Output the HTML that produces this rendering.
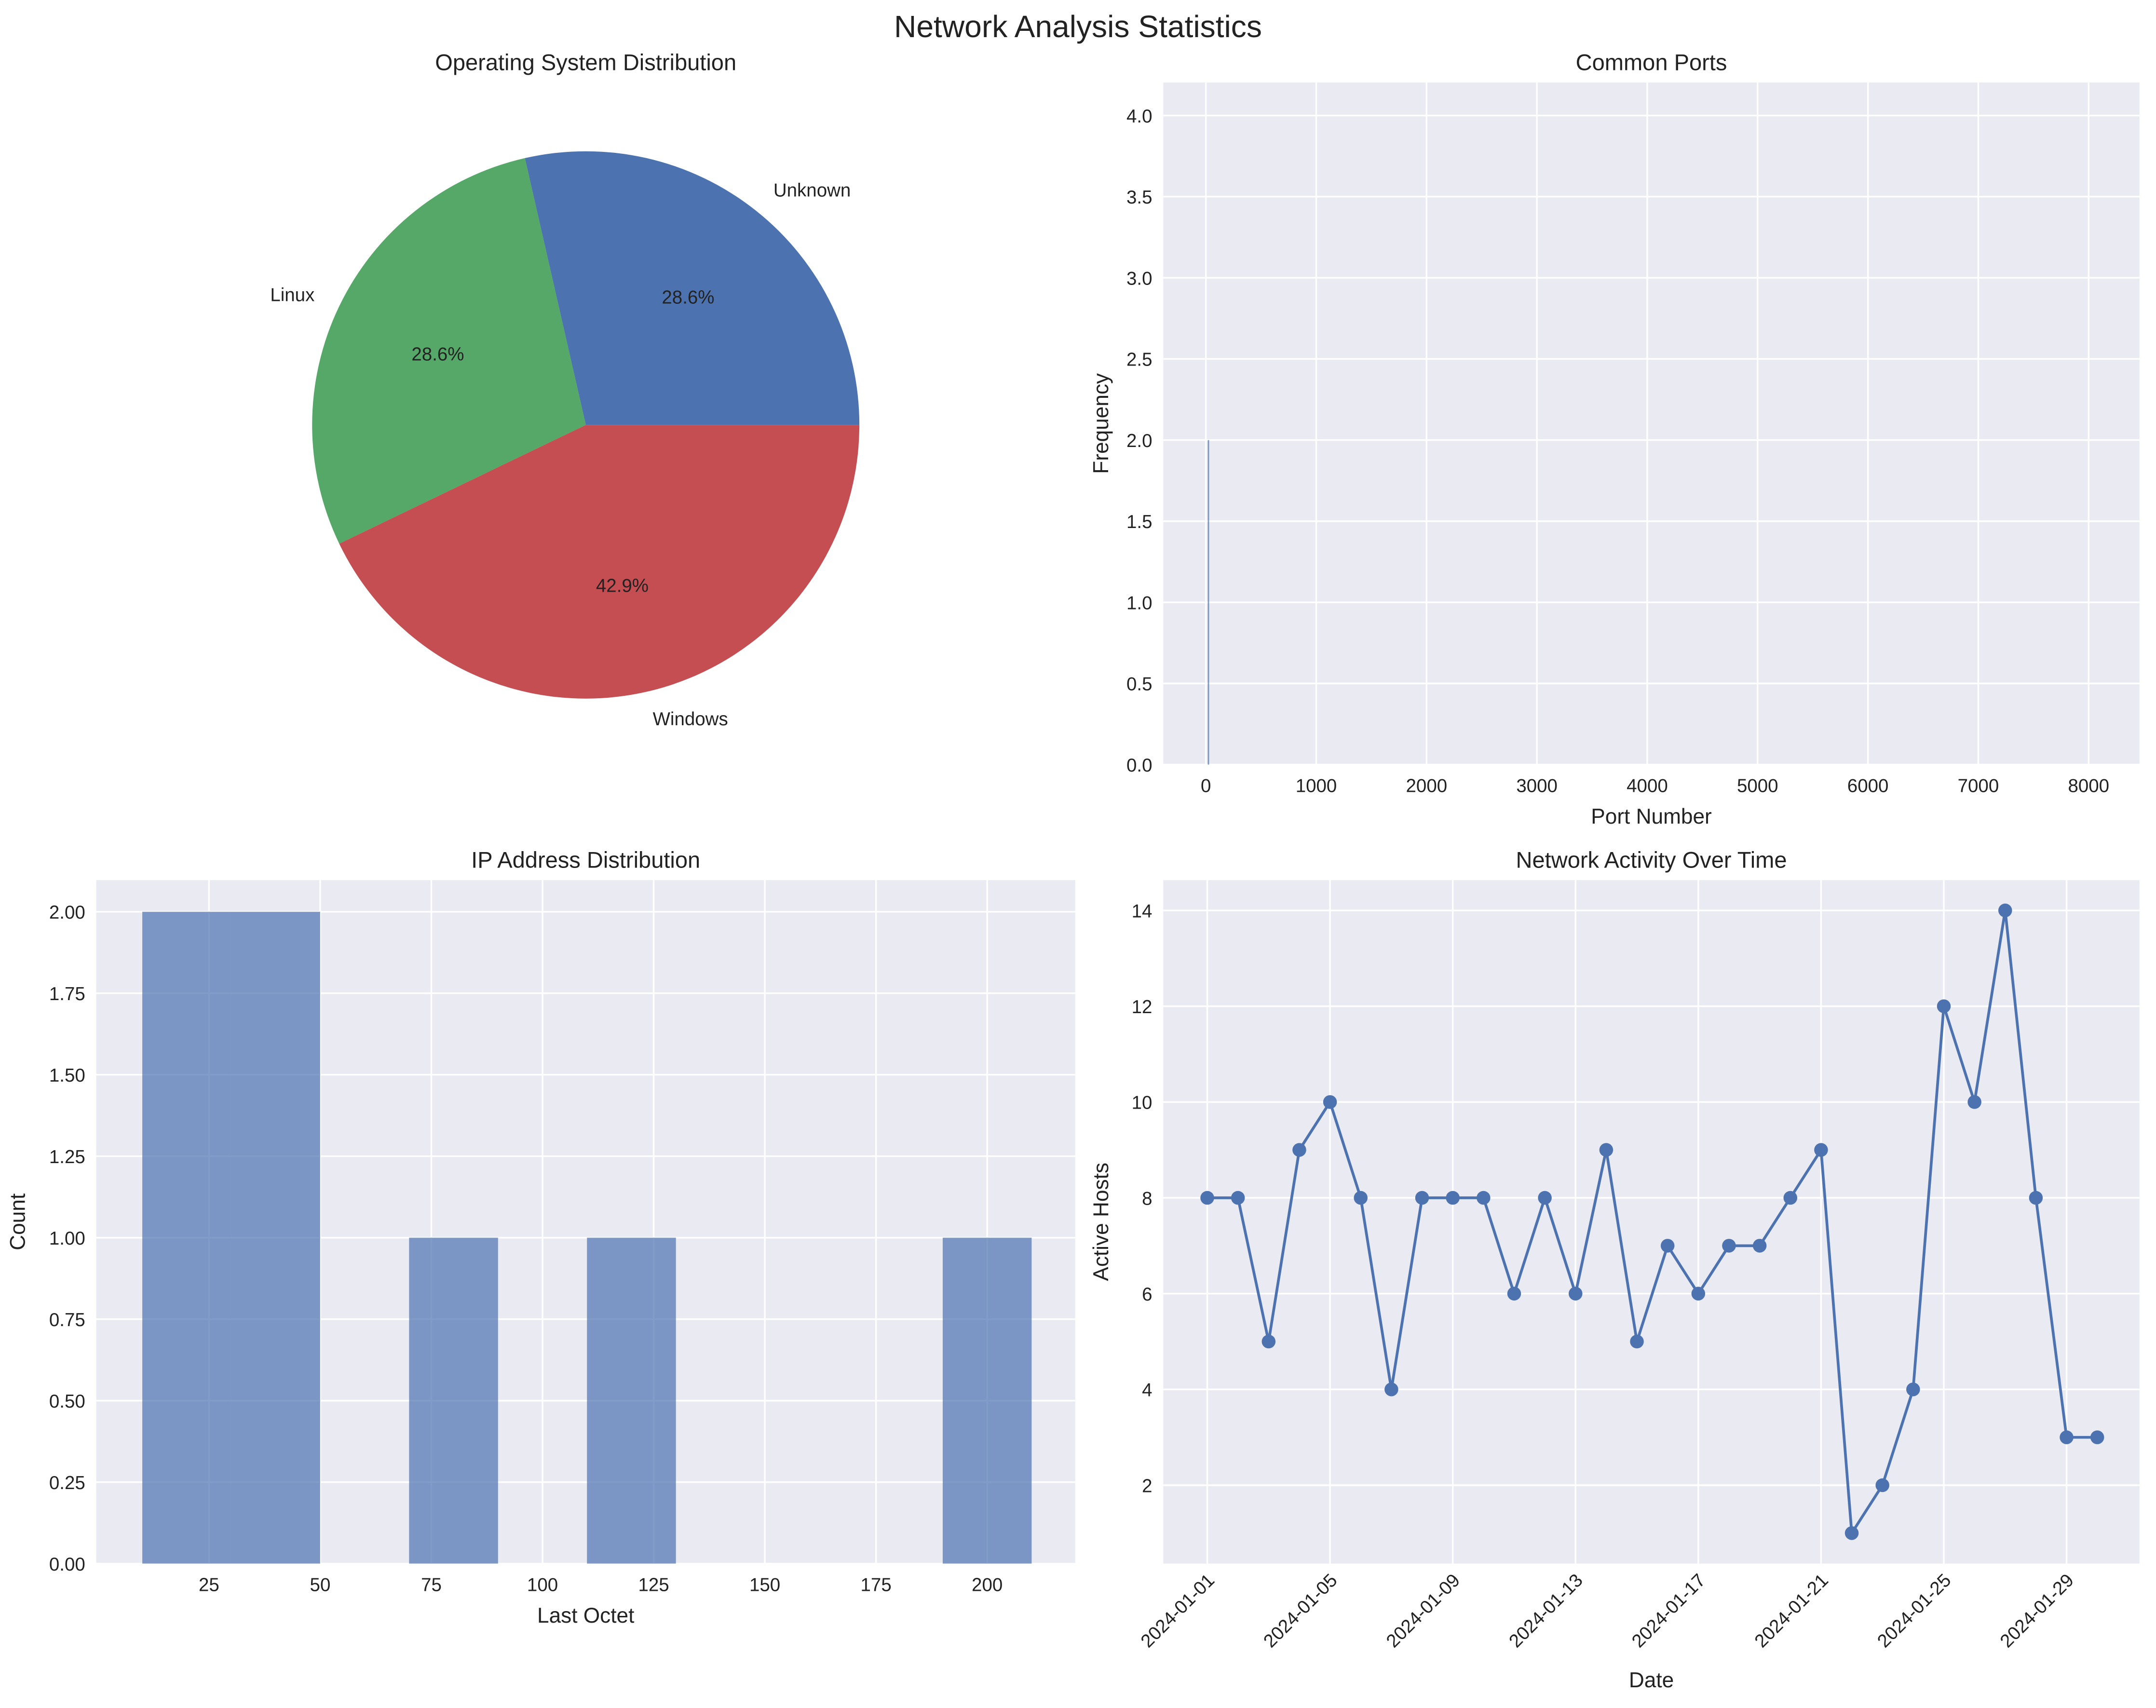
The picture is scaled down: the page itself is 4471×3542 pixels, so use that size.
<!DOCTYPE html>
<html><head><meta charset="utf-8"><style>
html,body{margin:0;padding:0;background:#fff}
svg{display:block;font-family:"Liberation Sans",Arial,sans-serif}
</style></head><body>
<svg id="fig" width="4471" height="3542" viewBox="0 0 1568 1242" preserveAspectRatio="none" xmlns="http://www.w3.org/2000/svg">
<rect width="1568" height="1242" fill="#fff"/>
<text x="784" y="27" font-size="22.5" text-anchor="middle" fill="#222">Network Analysis Statistics</text>
<g id="pie"></g><g id="ports"></g><g id="ip"></g><g id="act"></g>
</svg>
<script>
const osLabels=["Unknown","Linux","Windows"];
const osCounts=[2,2,3];
const portCats=[22];
const portCounts=[2];
const ipEdges=[10,30,50,70,90,110,130,150,170,190,210];
const ipCounts=[2,2,0,1,0,1,0,0,0,1];
const actDates=["2024-01-01","2024-01-02","2024-01-03","2024-01-04","2024-01-05","2024-01-06","2024-01-07","2024-01-08","2024-01-09","2024-01-10","2024-01-11","2024-01-12","2024-01-13","2024-01-14","2024-01-15","2024-01-16","2024-01-17","2024-01-18","2024-01-19","2024-01-20","2024-01-21","2024-01-22","2024-01-23","2024-01-24","2024-01-25","2024-01-26","2024-01-27","2024-01-28","2024-01-29","2024-01-30"];
const actHosts=[8,8,5,9,10,8,4,8,8,8,6,8,6,9,5,7,6,7,7,8,9,1,2,4,12,10,14,8,3,3];
const portTicks=[0,1000,2000,3000,4000,5000,6000,7000,8000];
const portYTicks=[0,0.5,1,1.5,2,2.5,3,3.5,4];
const ipXTicks=[25,50,75,100,125,150,175,200];
const ipYTicks=[0,0.25,0.5,0.75,1,1.25,1.5,1.75,2];
const actYTicks=[2,4,6,8,10,12,14];
const actXTickIdx=[0,4,8,12,16,20,24,28];

const NS="http://www.w3.org/2000/svg";
const TK=13.5, LB=15.5, TT=16.5;
function el(p,t,a,txt){const e=document.createElementNS(NS,t);for(const k in a)e.setAttribute(k,a[k]);if(txt!==undefined)e.textContent=txt;p.appendChild(e);return e;}

// Pie
(function(){
 const g=document.getElementById('pie');
 const cx=426,cy=309,r=199;const cols=["#4C72B0","#55A868","#C44E52"];
 el(g,'text',{x:426,y:51,'font-size':TT,'text-anchor':'middle',fill:'#222'},'Operating System Distribution');
 const tot=osCounts.reduce((a,b)=>a+b,0);let a0=0;
 osCounts.forEach((c,i)=>{
  const a1=a0+c/tot*2*Math.PI;
  const x0=cx+r*Math.cos(a0),y0=cy-r*Math.sin(a0),x1=cx+r*Math.cos(a1),y1=cy-r*Math.sin(a1);
  const large=(a1-a0)>Math.PI?1:0;
  const p=el(g,'path',{d:`M${cx},${cy}L${x0},${y0}A${r},${r} 0 ${large} 0 ${x1},${y1}Z`,fill:cols[i]});
  
  
  const m=(a0+a1)/2;
  const t=el(g,'text',{x:cx+r*1.1*Math.cos(m),y:cy-r*1.1*Math.sin(m)+5,'font-size':TK,'text-anchor':Math.cos(m)>0.05?'start':(Math.cos(m)<-0.05?'end':'middle'),fill:'#222'},osLabels[i]);
  
  
  const pc=el(g,'text',{x:cx+r*0.6*Math.cos(m),y:cy-r*0.6*Math.sin(m)+5,'font-size':TK,'text-anchor':'middle',fill:'#222'},(c/tot*100).toFixed(1)+'%');
  
  
  a0=a1;
 });
})();

function axes(g,box,xs,ys,xt,yt,xfmt,yfmt,title,xlabel,ylabel){
 el(g,'rect',{x:box.x0,y:box.y0,width:box.x1-box.x0,height:box.y1-box.y0,fill:'#EAEAF2'});
 xt.forEach(v=>{const x=xs(v);el(g,'line',{x1:x,x2:x,y1:box.y0,y2:box.y1,stroke:'#fff','stroke-width':1.2});});
 yt.forEach(v=>{const y=ys(v);el(g,'line',{x1:box.x0,x2:box.x1,y1:y,y2:y,stroke:'#fff','stroke-width':1.2});
  const t=el(g,'text',{x:box.x0-8,y:y+5,'font-size':TK,'text-anchor':'end',fill:'#222'},yfmt(v));
  });
 if(xfmt) xt.forEach(v=>{const t=el(g,'text',{x:xs(v),y:box.y1+20,'font-size':TK,'text-anchor':'middle',fill:'#222'},xfmt(v));
  });
 el(g,'text',{x:(box.x0+box.x1)/2,y:box.y0-9,'font-size':TT,'text-anchor':'middle',fill:'#222'},title);
 if(xlabel) el(g,'text',{x:(box.x0+box.x1)/2,y:box.y1+43,'font-size':LB,'text-anchor':'middle',fill:'#222'},xlabel);
 el(g,'text',{x:0,y:0,'font-size':LB,'text-anchor':'middle',fill:'#222',transform:`translate(${box.x0-(box.yl||44)},${(box.y0+box.y1)/2}) rotate(-90)`},ylabel);
}

// Ports
(function(){
 const g=document.getElementById('ports');
 const box={x0:846,x1:1556,y0:60,y1:556,yl:40};
 const xs=v=>877+v*(1519-877)/8000, ys=v=>556-v*118;
 axes(g,box,xs,ys,portTicks,portYTicks,v=>String(v),v=>v.toFixed(1),'Common Ports','Port Number','Frequency');
 portCats.forEach((p,i)=>{const b=el(g,'rect',{x:xs(p)-0.4,y:ys(portCounts[i]),width:1,height:ys(0)-ys(portCounts[i]),fill:'#4C72B0',opacity:0.7});
  });
})();

// IP
(function(){
 const g=document.getElementById('ip');
 const box={x0:70,x1:782,y0:640,y1:1137,yl:52};
 const xs=v=>152+(v-25)*3.234, ys=v=>1137-v*237;
 axes(g,box,xs,ys,ipXTicks,ipYTicks,v=>String(v),v=>v.toFixed(2),'IP Address Distribution','Last Octet','Count');
 ipCounts.forEach((n,i)=>{if(!n)return;const x0=xs(ipEdges[i]),x1=xs(ipEdges[i+1]);
  const b=el(g,'rect',{x:x0,y:ys(n),width:x1-x0,height:ys(0)-ys(n),fill:'#4C72B0',opacity:0.7});
  });
})();

// Activity
(function(){
 const g=document.getElementById('act');
 const box={x0:846,x1:1556,y0:640,y1:1137,yl:40};
 const xs=i=>878+i*22.32, ys=v=>1080-(v-2)*34.83;
 axes(g,box,xs,ys,actXTickIdx,actYTicks,null,v=>String(v),'Network Activity Over Time','','Active Hosts');
 el(g,'text',{x:1201,y:1227,'font-size':LB,'text-anchor':'middle',fill:'#222'},'Date');
 actXTickIdx.forEach(i=>{const t=el(g,'text',{x:0,y:0,'font-size':TK,'text-anchor':'end',fill:'#222',transform:`translate(${xs(i)+6},${box.y1+13}) rotate(-45)`},actDates[i]);
  });
 const pts=actHosts.map((v,i)=>xs(i)+','+ys(v)).join(' ');
 const l=el(g,'polyline',{points:pts,fill:'none',stroke:'#4C72B0','stroke-width':2});
 
 actHosts.forEach((v,i)=>{const c=el(g,'circle',{cx:xs(i),cy:ys(v),r:5,fill:'#4C72B0'});
  });
})();
</script>
</body></html>
